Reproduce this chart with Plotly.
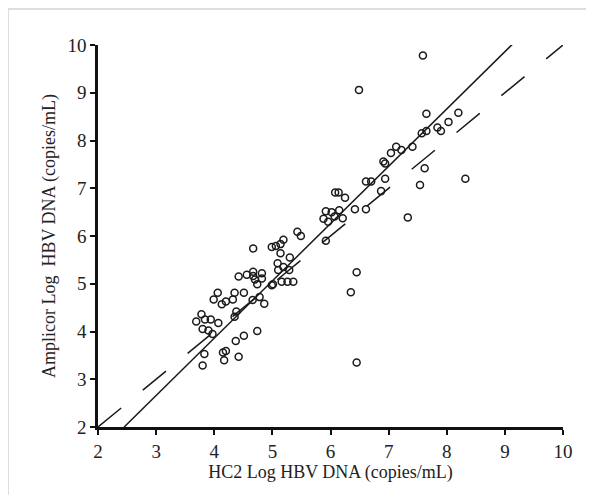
import plotly.graph_objects as go

# HC2 vs Amplicor log HBV DNA (copies/mL)
hc2 = [3.69, 3.78, 3.84, 3.94, 3.80, 3.90, 3.97, 4.07, 3.83, 3.80,
       4.15, 4.20, 4.17, 4.37, 4.42, 4.51, 4.74, 3.99, 4.06, 4.13,
       4.20, 4.32, 4.35, 4.51, 4.35, 4.38, 4.42, 4.56, 4.67, 4.67,
       4.70, 4.82, 4.82, 4.74, 4.67, 4.66, 4.78, 4.86, 4.99, 5.01,
       4.99, 5.06, 5.14, 5.19, 5.14, 5.09, 5.10, 5.19, 5.29, 5.30,
       5.16, 5.26, 5.36, 5.43, 5.49, 5.92, 5.92, 6.02, 6.15, 5.88,
       5.96, 6.07, 6.21, 6.08, 6.14, 6.25, 6.42, 6.61, 6.45, 6.35,
       6.45, 7.59, 6.49, 7.65, 8.20, 8.03, 7.84, 7.90, 7.65, 7.57,
       7.41, 7.22, 7.13, 7.04, 6.94, 6.91, 6.70, 6.61, 6.94, 6.87,
       7.62, 7.54, 8.32, 7.33]
amplicor = [4.21, 4.36, 4.25, 4.25, 4.05, 4.02, 3.95, 4.18, 3.53, 3.29,
            3.56, 3.59, 3.40, 3.80, 3.47, 3.91, 4.01, 4.67, 4.81, 4.57,
            4.63, 4.67, 4.81, 4.81, 4.31, 4.42, 5.15, 5.19, 5.25, 5.16,
            5.09, 5.22, 5.11, 4.99, 5.74, 4.66, 4.72, 4.58, 4.97, 4.99,
            5.77, 5.79, 5.83, 5.92, 5.64, 5.43, 5.29, 5.35, 5.29, 5.55,
            5.04, 5.04, 5.04, 6.09, 6.00, 5.90, 6.52, 6.50, 6.54, 6.36,
            6.30, 6.41, 6.37, 6.91, 6.91, 6.80, 6.56, 6.56, 5.24, 4.82,
            3.35, 9.78, 9.06, 8.56, 8.58, 8.39, 8.27, 8.20, 8.20, 8.15,
            7.87, 7.80, 7.87, 7.74, 7.52, 7.56, 7.14, 7.14, 7.20, 6.94,
            7.42, 7.07, 7.20, 6.39]

# regression line y = slope*x + intercept, and the line of identity
slope = 1.2
intercept = -0.94
fit_x = [(2 - intercept) / slope, (10.52 - intercept) / slope]
fit_y = [slope * v + intercept for v in fit_x]
ident = [2, 10]

serif = "Liberation Serif, Times New Roman, serif"
ink = "#1a1a1a"
axis_ink = "#111111"

fig = go.Figure()
fig.add_trace(go.Scatter(x=ident, y=ident, mode="lines",
                         line=dict(color=ink, width=1.5, dash="30px,28px"),
                         hoverinfo="skip"))
fig.add_trace(go.Scatter(x=fit_x, y=fit_y, mode="lines",
                         line=dict(color=ink, width=1.5),
                         hoverinfo="skip"))
fig.add_trace(go.Scatter(x=hc2, y=amplicor, mode="markers",
                         marker=dict(symbol="circle-open", size=7, color=ink,
                                     line=dict(width=1.5, color=ink))))

axis = dict(range=[2, 10], dtick=1, showgrid=False, zeroline=False,
            showline=True, linecolor=axis_ink, linewidth=2.5,
            ticks="outside", ticklen=5, tickwidth=2, tickcolor=axis_ink,
            tickfont=dict(family=serif, size=19, color="#222"))
fig.update_xaxes(**axis)
fig.update_yaxes(**axis)
fig.update_xaxes(title=dict(text="HC2 Log HBV DNA (copies/mL)", standoff=0,
                            font=dict(family=serif, size=18, color="#222")))
fig.update_yaxes(title=dict(text="Amplicor Log&nbsp;&nbsp;HBV DNA (copies/mL)", standoff=8,
                            font=dict(family=serif, size=18, color="#222")))

fig.update_layout(
    template="none",
    width=594, height=495,
    # page body adds 8px, so margins are shifted to keep the plot box in place
    margin=dict(l=90, r=39, t=37, b=76, autoexpand=False),
    plot_bgcolor="white", paper_bgcolor="white",
    showlegend=False,
)
# outer light frame
fig.add_shape(type="rect", xref="paper", yref="paper",
              x0=-0.1935, x1=1.062, y0=-0.2, y1=1.094,
              line=dict(color="#d4d4d4", width=1.5), layer="above")

fig.write_html("out.html")
